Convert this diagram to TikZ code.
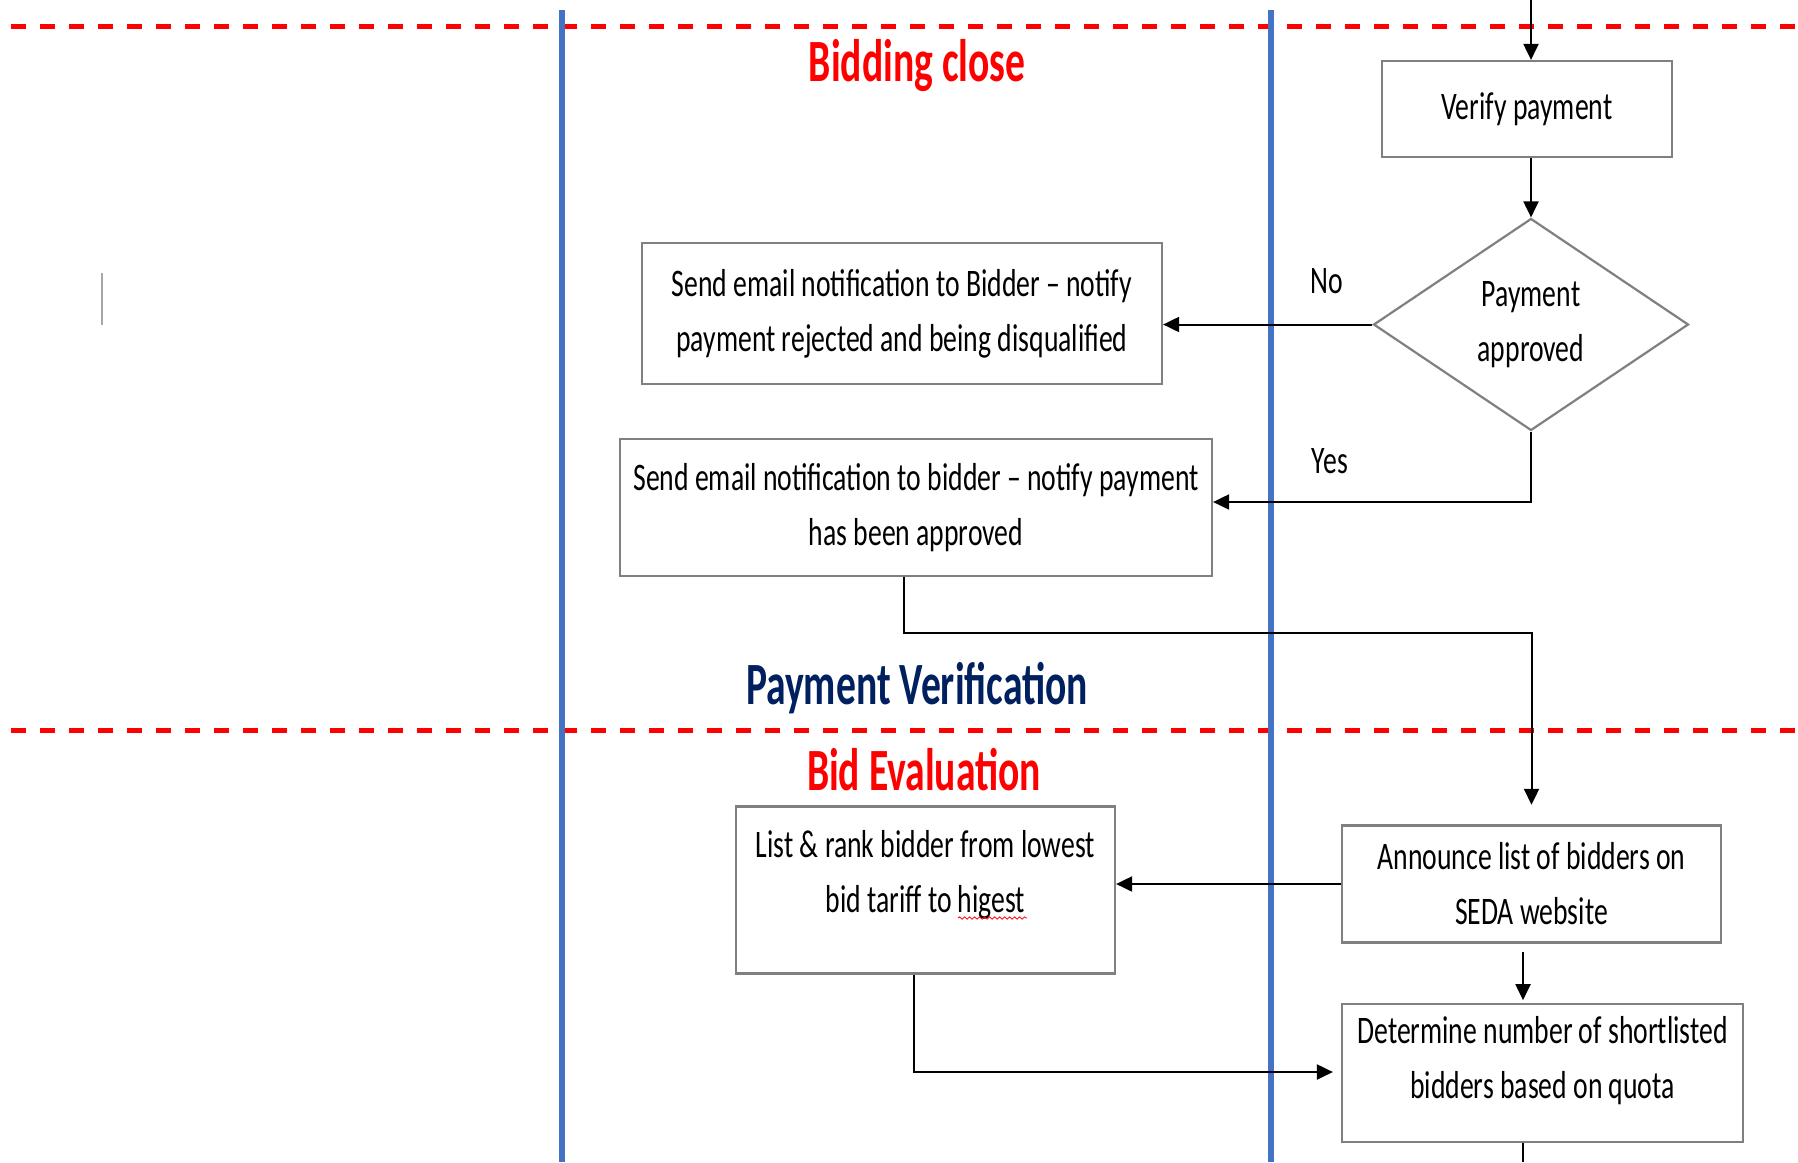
\documentclass[tikz,border=0pt]{standalone}
\usepackage{fontspec}
\setmainfont{Carlito}[FakeStretch=0.71]
\newfontfamily\titlefont{Carlito}[FakeStretch=0.66]
\usetikzlibrary{arrows.meta,shapes.geometric,decorations.pathmorphing}
\definecolor{laneblue}{HTML}{4472C4}
\definecolor{phasered}{HTML}{FF0000}
\definecolor{navyblue}{HTML}{002060}
\definecolor{boxgray}{HTML}{808080}
\begin{document}
\begin{tikzpicture}[x=0.5pt,y=-0.5pt,
  box/.style={draw=boxgray, line width=1.1pt, fill=white, inner sep=0pt, align=center, font=\fontsize{19.5}{27.5}\selectfont},
  txt/.style={inner sep=0pt, align=center, font=\fontsize{19.5}{27.5}\selectfont},
  ttl/.style={inner sep=0pt, font=\titlefont\bfseries\fontsize{30}{36}\selectfont},
  arr/.style={draw=black, line width=1pt, -{Triangle[length=8pt,width=7.5pt]}},
  conn/.style={draw=black, line width=1pt},
  lane/.style={draw=laneblue, line width=3.2pt},
  phase/.style={draw=phasered, line width=2.5pt, dash pattern=on 7.5pt off 7pt}
]
\fill[white] (0,0) rectangle (1798,1162);
\useasboundingbox (0,0) rectangle (1798,1162);

% phase separators and lanes
\draw[phase] (11,26) -- (1798,26);
\draw[phase] (11,730) -- (1798,730);
\draw[lane] (562,10) -- (562,1162);
\draw[lane] (1271,10) -- (1271,1162);
\draw[gray!70, line width=0.8pt] (102,273) -- (102,325);

% titles
\node[ttl, text=phasered] (t1) at (917,66) {Bidding close};
\node[ttl, text=navyblue] (t2) at (917,688) {Payment Verification};
\node[ttl, text=phasered] (t3) at (924,770) {Bid Evaluation};

% nodes
\node[box, minimum width=145pt, minimum height=48pt] (vp) at (1527,109) {Verify payment};
\node[box, diamond, aspect=1.5, minimum width=157.5pt, minimum height=106pt] (dia) at (1531,324.5) {Payment\\approved};
\node[box, minimum width=260pt, minimum height=70.5pt] (b1) at (902,313.5) {Send email notification to Bidder – notify\\payment rejected and being disqualified};
\node[box, minimum width=296pt, minimum height=68.5pt] (b2) at (916,507.5) {Send email notification to bidder – notify payment\\has been approved};
\node[box, minimum width=189.5pt, minimum height=83.5pt] (b3) at (925.5,890) {};
\node[txt] (b3t) at (925.5,875) {List \& rank bidder from lowest\\bid tariff to higest};
\node[box, minimum width=189.5pt, minimum height=58.5pt] (b4) at (1531.5,884) {Announce list of bidders on\\SEDA website};
\node[box, minimum width=200.5pt, minimum height=68.75pt] (b5) at (1542.5,1073) {};
\node[txt] (b5t) at (1542.5,1060.5) {Determine number of shortlisted\\bidders based on quota};

\node[txt] (no) at (1327,281) {No};
\node[txt] (yes) at (1330,461) {Yes};

% spelling underline
\draw[red, line width=0.4pt, decorate, decoration={snake, amplitude=0.6pt, segment length=2.5pt}] (958,918) -- (1027,918);

% connectors
\coordinate (top) at (1531,0);
\draw[arr] (top) -- (top |- vp.north);
\draw[arr] (dia.north |- vp.south) -- (dia.north);
\draw[arr] (dia.west) -- (dia.west -| b1.east);
\coordinate (yc) at (1531,502);
\draw[arr] (dia.south) -- (yc) -- (yc -| b2.east);
\coordinate (j1) at (903.6,633);
\draw[arr, shorten >=9.8pt] (b2.south -| j1) -- (j1) -| (b4.north);
\draw[arr] (b4.west) -- (b4.west -| b3.east);
\coordinate (a45) at (1523,951.8);
\draw[arr, shorten >=1.5pt] (a45) -- (a45 |- b5.north);
\coordinate (j3) at (914,1072);
\draw[arr, shorten >=4pt] (b3.south -| j3) -- (j3) -- (j3 -| b5.west);
\coordinate (bot) at (1523,1162);
\draw[conn] (b5.south -| bot) -- (bot);
\end{tikzpicture}
\end{document}
